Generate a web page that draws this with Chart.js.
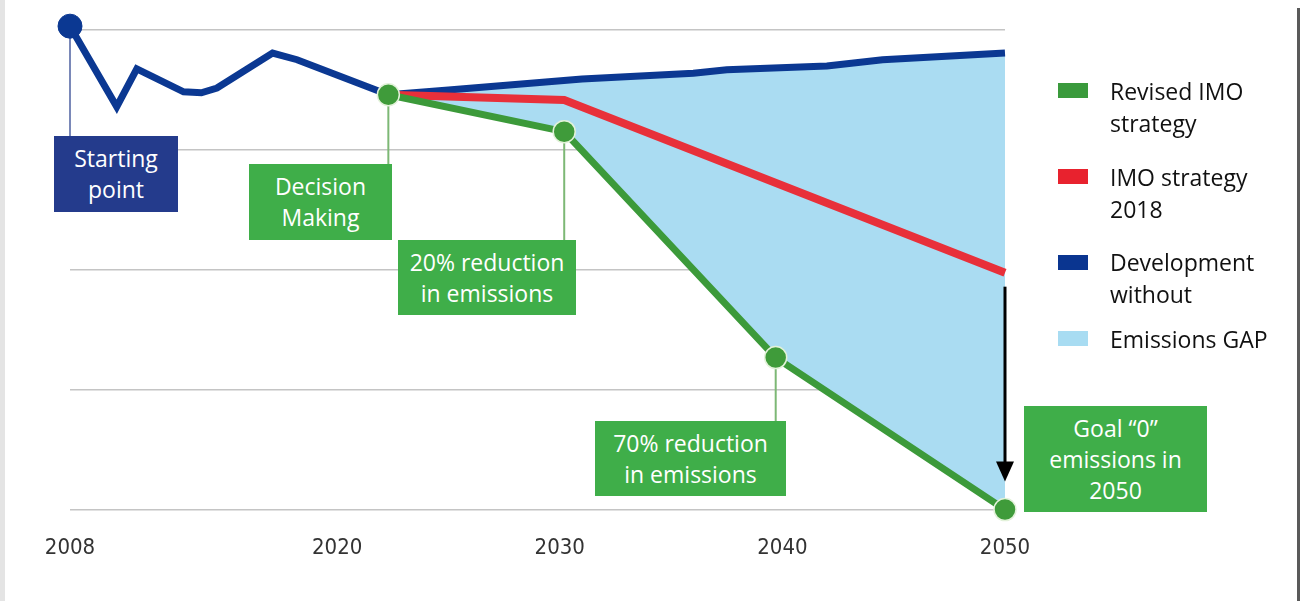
<!DOCTYPE html>
<html>
<head>
<meta charset="utf-8">
<script src="https://cdn.jsdelivr.net/npm/chart.js@4.4.1/dist/chart.umd.min.js"></script>
<style>
  html, body { margin: 0; padding: 0; background: #fff; }
  #wrap { position: relative; width: 1300px; height: 601px; overflow: hidden; background: #fff; }
  #c { position: absolute; left: 0; top: 0; }
  .edgeL { position: absolute; left: 0; top: 0; width: 5px; height: 601px; background: #e4e4e4; }
  .edgeR { position: absolute; right: 0; top: 8px; width: 3px; height: 593px; background: #5a5a5a; }
  .box { position: absolute; color: #fff; font-family: "Open Sans", "Noto Sans", sans-serif; font-size: 23px; line-height: 31px; text-align: center; display: flex; align-items: center; justify-content: center; }
  .green { background: #3fae49; }
  .navy { background: #243b8c; }
  .leg { position: absolute; font-family: "Open Sans", "Noto Sans", sans-serif; font-size: 23px; line-height: 32px; color: #111; }
  .sw { position: absolute; width: 30px; height: 15px; }
</style>
</head>
<body>
<div id="wrap">
  <canvas id="c" width="1300" height="601"></canvas>
  <div class="edgeL"></div>
  <div class="edgeR"></div>

  <div class="box navy" style="left:54px;top:136px;width:124px;height:76px;">Starting<br>point</div>
  <div class="box green" style="left:249px;top:164px;width:143px;height:76px;">Decision<br>Making</div>
  <div class="box green" style="left:398px;top:240px;width:178px;height:75px;">20% reduction<br>in emissions</div>
  <div class="box green" style="left:595px;top:421px;width:191px;height:75px;">70% reduction<br>in emissions</div>
  <div class="box green" style="left:1024px;top:406px;width:183px;height:106px;">Goal “0”<br>emissions in<br>2050</div>

  <div class="sw" style="left:1058px;top:83px;background:#3a9a3c;"></div>
  <div class="leg" style="left:1110px;top:75px;">Revised IMO<br>strategy</div>
  <div class="sw" style="left:1058px;top:169px;background:#e8222e;"></div>
  <div class="leg" style="left:1110px;top:161px;">IMO strategy<br>2018</div>
  <div class="sw" style="left:1058px;top:255px;background:#0a3590;"></div>
  <div class="leg" style="left:1110px;top:246px;">Development<br>without</div>
  <div class="sw" style="left:1058px;top:331px;background:#a8dcf2;"></div>
  <div class="leg" style="left:1110px;top:323px;">Emissions GAP</div>
</div>
<script>
// ---- data (index: 2008 start = ~100) ----
const xTickYears = [2008, 2020, 2030, 2040, 2050];

const devYears  = [2008, 2010.1, 2011.0, 2013.1, 2013.9, 2014.6, 2017.1, 2018.2, 2022.3, 2025, 2029.5, 2031, 2036, 2037.5, 2042, 2044.5, 2050];
const devValues = [100.8, 84, 91.9, 87.1, 86.9, 87.9, 95.2, 93.8, 86.5, 87.5, 89.2, 89.8, 91.0, 91.7, 92.5, 93.8, 95.2];

const imo2018Years  = [2022.3, 2030.2, 2050];
const imo2018Values = [86.5, 85.4, 49.4];

const revisedYears  = [2022.3, 2030.2, 2039.7, 2050];
const revisedValues = [86.5, 78.8, 31.7, 0];

// annotation connectors: [dataset index, point index, bottom y of connector (box top)]
const connectors = [
  [2, 0, 136, '#7a88b8'],
  [0, 0, 164, '#7db875'],
  [0, 1, 240, '#7db875'],
  [0, 2, 421, '#7db875']
];

const toXY = (xs, ys) => xs.map((x, i) => ({ x: x, y: ys[i] }));

const connectorPlugin = {
  id: 'connectors',
  beforeDatasetsDraw(chart) {
    const ctx = chart.ctx;
    ctx.save();
    connectors.forEach(([ds, idx, yEnd, col]) => {
      const el = chart.getDatasetMeta(ds).data[idx];
      ctx.strokeStyle = col;
      ctx.lineWidth = 2;
      ctx.beginPath();
      ctx.moveTo(el.x, el.y);
      ctx.lineTo(el.x, yEnd);
      ctx.stroke();
    });
    ctx.restore();
  },
  afterDatasetsDraw(chart) {
    const ctx = chart.ctx;
    const red = chart.getDatasetMeta(1).data;
    const grn = chart.getDatasetMeta(0).data;
    const top = red[red.length - 1];
    const bot = grn[grn.length - 1];
    const x = top.x;
    const y0 = top.y + 14;
    const tip = bot.y - 28;
    ctx.save();
    ctx.strokeStyle = '#000';
    ctx.fillStyle = '#000';
    ctx.lineWidth = 3;
    ctx.beginPath();
    ctx.moveTo(x, y0);
    ctx.lineTo(x, tip - 16);
    ctx.stroke();
    ctx.beginPath();
    ctx.moveTo(x - 9, tip - 20);
    ctx.lineTo(x + 9, tip - 20);
    ctx.lineTo(x, tip);
    ctx.closePath();
    ctx.fill();
    ctx.restore();
  }
};

new Chart(document.getElementById('c'), {
  type: 'line',
  data: {
    datasets: [
      {
        label: 'Revised IMO strategy',
        data: toXY(revisedYears, revisedValues),
        borderColor: '#3c9a3a',
        borderWidth: 7,
        backgroundColor: '#aadcf2',
        fill: { target: 2 },
        pointRadius: 11,
        pointBackgroundColor: '#3f9b3a',
        pointBorderColor: '#e3f2da',
        pointBorderWidth: 1.5,
        clip: false,
        tension: 0
      },
      {
        label: 'IMO strategy 2018',
        data: toXY(imo2018Years, imo2018Values),
        borderColor: '#e8303a',
        borderWidth: 8,
        pointRadius: 0,
        fill: false,
        clip: false,
        tension: 0
      },
      {
        label: 'Development without',
        data: toXY(devYears, devValues),
        borderColor: '#0b3892',
        borderWidth: 7,
        pointRadius: (c) => c.dataIndex === 0 ? 12 : 0,
        pointBackgroundColor: '#0b3892',
        pointBorderColor: '#0b3892',
        pointBorderWidth: 1,
        fill: false,
        clip: false,
        tension: 0
      }
    ]
  },
  options: {
    responsive: false,
    animation: false,
    events: [],
    layout: { padding: { left: 70, right: 295, top: 30, bottom: 23 } },
    plugins: {
      legend: { display: false },
      tooltip: { enabled: false },
      filler: { drawTime: 'beforeDatasetsDraw' }
    },
    scales: {
      x: {
        type: 'linear',
        min: 2008,
        max: 2050,
        grid: { display: false },
        border: { display: false },
        afterBuildTicks: (axis) => { axis.ticks = xTickYears.map(v => ({ value: v })); },
        ticks: {
          autoSkip: false,
          maxRotation: 0,
          padding: 17,
          color: '#333',
          font: { family: '"Liberation Sans Narrow", "DejaVu Sans Condensed", sans-serif', size: 22 },
          callback: (v) => String(v)
        }
      },
      y: {
        min: 0,
        max: 100,
        ticks: { display: false, stepSize: 25 },
        grid: { color: '#c4c4c4', lineWidth: 1.5, drawTicks: false },
        border: { display: false }
      }
    }
  },
  plugins: [connectorPlugin]
});
</script>
</body>
</html>
